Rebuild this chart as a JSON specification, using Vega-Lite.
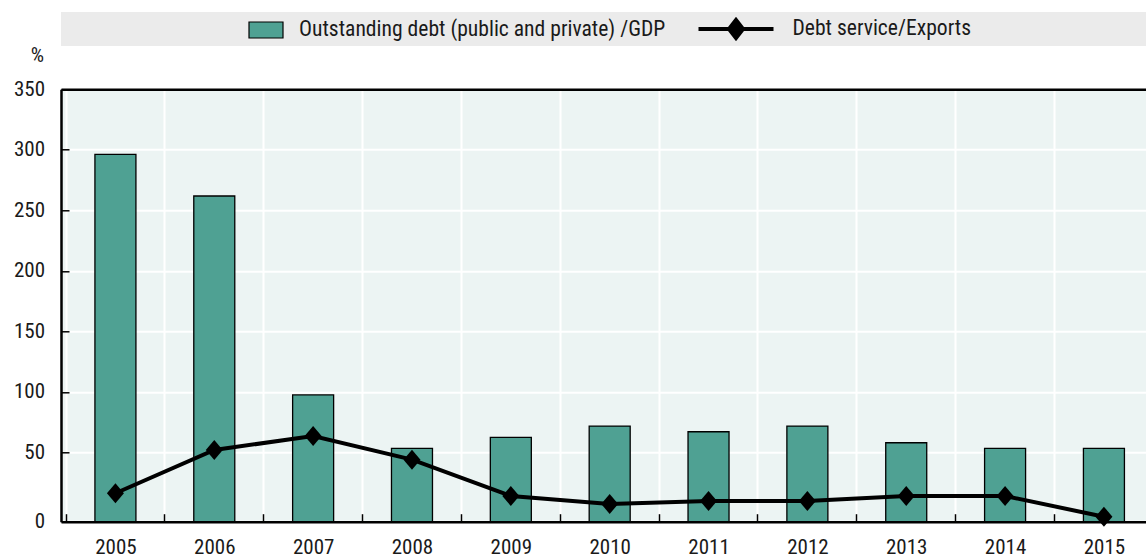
{
  "$schema": "https://vega.github.io/schema/vega-lite/v6.json",
  "padding": {"left": 13, "top": 12, "right": 0, "bottom": 0},
  "background": "white",
  "config": {
    "font": "Roboto Condensed, Liberation Sans, sans-serif",
    "view": {"stroke": null},
    "axis": {"labelFont": "Roboto Condensed, Liberation Sans, sans-serif", "labelFontSize": 21, "labelColor": "#1a1a1a", "titleFont": "Roboto Condensed, Liberation Sans, sans-serif", "titleFontSize": 21, "titleFontWeight": "normal", "titleColor": "#1a1a1a"},
    "legend": {"labelFont": "Roboto Condensed, Liberation Sans, sans-serif", "labelFontSize": 21.6, "labelColor": "#1a1a1a"}
  },
  "bounds": "flush",
  "spacing": 43.3,
  "vconcat": [
    {
      "width": 1085,
      "height": 34,
      "view": {"fill": "#ebebeb", "stroke": null},
      "data": {"values": [{}]},
      "mark": {"type": "text"},
      "encoding": {"text": {"value": ""}}
    },
    {
      "width": 1085,
      "height": 432.4,
      "view": {"fill": "#ecf4f3", "stroke": null},
      "data": {
        "values": [
          {"year": 2005, "series": "Outstanding debt (public and private) /GDP", "value": 296.3},
          {"year": 2006, "series": "Outstanding debt (public and private) /GDP", "value": 261.8},
          {"year": 2007, "series": "Outstanding debt (public and private) /GDP", "value": 97.4},
          {"year": 2008, "series": "Outstanding debt (public and private) /GDP", "value": 53.3},
          {"year": 2009, "series": "Outstanding debt (public and private) /GDP", "value": 62.4},
          {"year": 2010, "series": "Outstanding debt (public and private) /GDP", "value": 71.7},
          {"year": 2011, "series": "Outstanding debt (public and private) /GDP", "value": 67.0},
          {"year": 2012, "series": "Outstanding debt (public and private) /GDP", "value": 71.7},
          {"year": 2013, "series": "Outstanding debt (public and private) /GDP", "value": 57.9},
          {"year": 2014, "series": "Outstanding debt (public and private) /GDP", "value": 53.3},
          {"year": 2015, "series": "Outstanding debt (public and private) /GDP", "value": 53.3},
          {"year": 2005, "series": "Debt service/Exports", "value": 20.5},
          {"year": 2006, "series": "Debt service/Exports", "value": 51.9},
          {"year": 2007, "series": "Debt service/Exports", "value": 63.5},
          {"year": 2008, "series": "Debt service/Exports", "value": 44.7},
          {"year": 2009, "series": "Debt service/Exports", "value": 18.5},
          {"year": 2010, "series": "Debt service/Exports", "value": 12.8},
          {"year": 2011, "series": "Debt service/Exports", "value": 14.9},
          {"year": 2012, "series": "Debt service/Exports", "value": 14.9},
          {"year": 2013, "series": "Debt service/Exports", "value": 18.5},
          {"year": 2014, "series": "Debt service/Exports", "value": 18.5},
          {"year": 2015, "series": "Debt service/Exports", "value": 3.6}
        ]
      },
      "encoding": {
        "x": {
          "field": "year", "type": "quantitative",
          "scale": {"domain": [2004.5, 2015.375], "nice": false, "zero": false},
          "axis": {
            "title": null,
            "values": [2005, 2006, 2007, 2008, 2009, 2010, 2011, 2012, 2013, 2014, 2015],
            "format": "d",
            "tickOffset": -49.9,
            "labelOffset": 49.9,
            "grid": true, "gridColor": "white", "gridWidth": 2,
            "tickSize": -8, "tickColor": "black", "tickWidth": 1.5,
            "domainColor": "black", "domainWidth": 2.5,
            "labelPadding": 23,
            "labelFlush": false,
            "labelOverlap": false
          }
        },
        "y": {
          "field": "value", "type": "quantitative",
          "scale": {"domain": [0, 50, 350], "range": [432.4, 363, 0], "nice": false, "zero": false},
          "axis": {
            "title": "%",
            "titleAngle": 0, "titleAlign": "center", "titleBaseline": "middle",
            "titleX": -24, "titleY": -34,
            "values": [0, 50, 100, 150, 200, 250, 300, 350],
            "grid": true,
            "gridColor": {"condition": {"test": "datum.value === 350", "value": "black"}, "value": "white"},
            "gridWidth": {"condition": {"test": "datum.value === 350", "value": 2.5}, "value": 2},
            "tickSize": -8, "tickColor": "black", "tickWidth": 1.5,
            "domainColor": "black", "domainWidth": 2.5,
            "labelPadding": 24.4,
            "labelFlush": false,
            "labelOverlap": false
          }
        }
      },
      "layer": [
        {
          "transform": [{"filter": "datum.series === 'Outstanding debt (public and private) /GDP'"}],
          "mark": {"type": "bar", "orient": "vertical", "width": 41, "stroke": "black", "strokeWidth": 1.3},
          "encoding": {
            "y": {"field": "value", "type": "quantitative", "stack": null},
            "fill": {
              "field": "series", "type": "nominal",
              "scale": {"range": ["#4fa193"]},
              "legend": {
                "orient": "none", "legendX": 187, "legendY": 0,
                "title": null, "padding": 0,
                "symbolType": "M-1,-0.47H1V0.47H-1Z", "symbolSize": 1156,
                "symbolStrokeColor": "black", "symbolStrokeWidth": 1.2,
                "labelOffset": 15, "labelLimit": 600
              }
            }
          }
        },
        {
          "transform": [{"filter": "datum.series === 'Debt service/Exports'"}],
          "mark": {"type": "line", "strokeWidth": 4},
          "encoding": {
            "stroke": {
              "field": "series", "type": "nominal",
              "scale": {"range": ["black"]},
              "legend": {
                "orient": "none", "legendX": 663, "legendY": 5,
                "title": null, "padding": 0,
                "symbolType": "M-3.75,0H3.75M0,-0.9L0.7,0L0,0.9L-0.7,0Z", "symbolSize": 400,
                "symbolFillColor": "black", "symbolStrokeWidth": 4,
                "labelOffset": 44.5, "labelLimit": 600
              }
            }
          }
        },
        {
          "transform": [{"filter": "datum.series === 'Debt service/Exports'"}],
          "mark": {"type": "point", "shape": "M0,-1.18L1,0L0,1.18L-1,0Z", "size": 289, "filled": true, "color": "black", "opacity": 1}
        }
      ]
    }
  ]
}
